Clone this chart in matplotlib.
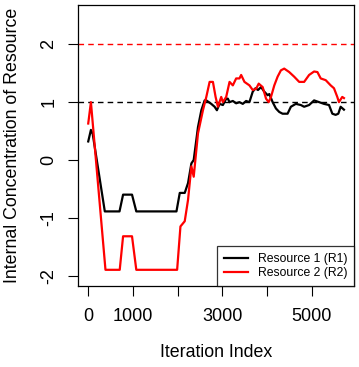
import matplotlib.pyplot as plt
import numpy as np

plt.rcParams['font.family'] = ['Liberation Sans', 'DejaVu Sans']
plt.rcParams['axes.unicode_minus'] = False

# values (iteration index, internal concentration)
r1_x = [0, 60, 100, 371, 700, 780, 980, 1076, 1975, 2049, 2160, 2234, 2309, 2361,
        2457, 2532, 2606, 2643, 2754, 2829, 2880, 2940, 3014, 3088, 3125, 3163,
        3237, 3311, 3385, 3460, 3534, 3608, 3682, 3742, 3800, 3868, 3942, 4016,
        4054, 4128, 4202, 4276, 4350, 4462, 4536, 4647, 4759, 4833, 4944, 5056,
        5167, 5278, 5390, 5464, 5538, 5598, 5650, 5724]
r1_y = [0.32, 0.52, 0.45, -0.89, -0.89, -0.60, -0.60, -0.89, -0.89, -0.57, -0.57,
        -0.40, -0.06, 0.0, 0.57, 0.86, 1.03, 1.03, 0.97, 0.92, 0.86, 0.97, 0.95,
        1.06, 1.06, 1.0, 1.02, 0.98, 1.0, 0.97, 1.02, 1.0, 1.18, 1.24, 1.21, 1.26,
        1.18, 1.12, 1.14, 1.0, 0.89, 0.83, 0.80, 0.80, 0.92, 0.97, 0.95, 0.92,
        0.95, 1.03, 1.0, 0.97, 0.95, 0.80, 0.78, 0.80, 0.92, 0.87]

r2_x = [0, 60, 386, 705, 780, 980, 1076, 1990, 2064, 2160, 2234, 2309, 2361, 2457,
        2568, 2643, 2717, 2791, 2851, 2903, 2977, 3014, 3088, 3163, 3237, 3311,
        3385, 3423, 3497, 3608, 3682, 3757, 3816, 3905, 3980, 4039, 4091, 4165,
        4239, 4313, 4387, 4499, 4610, 4722, 4833, 4944, 5056, 5130, 5204, 5316,
        5427, 5501, 5575, 5612, 5686, 5724]
r2_y = [0.63, 1.0, -1.90, -1.90, -1.32, -1.32, -1.90, -1.90, -1.15, -1.06, -0.69,
        -0.11, -0.29, 0.46, 0.86, 1.09, 1.35, 1.35, 1.09, 0.92, 1.09, 1.0, 1.09,
        1.35, 1.29, 1.41, 1.41, 1.47, 1.35, 1.29, 1.21, 1.23, 1.32, 1.26, 1.06,
        1.0, 1.09, 1.29, 1.44, 1.55, 1.58, 1.52, 1.44, 1.35, 1.35, 1.47, 1.53,
        1.52, 1.41, 1.38, 1.29, 1.24, 1.09, 1.0, 1.09, 1.07]

x_ticks = [0, 1000, 2000, 3000, 4000, 5000]
x_labels = ['0', '1000', '', '3000', '', '5000']
y_ticks = [-2, -1, 0, 1, 2]

fig = plt.figure(figsize=(3.59, 3.67), dpi=100)
ax = fig.add_axes([78 / 359, 1 - 286 / 367, 276 / 359, 281 / 367])

ax.axhline(1, color='black', lw=1, dashes=(4, 3))
ax.axhline(2, color='red', lw=1, dashes=(4, 3))
ax.plot(r1_x, r1_y, color='black', lw=1.6, label='Resource 1 (R1)')
ax.plot(r2_x, r2_y, color='red', lw=1.6, label='Resource 2 (R2)')

ax.set_xlim(-229, 5949)
ax.set_ylim(-2.18, 2.68)
ax.set_xticks(x_ticks)
ax.set_xticklabels(x_labels)
ax.set_yticks(y_ticks)
ax.set_yticklabels([str(v) for v in y_ticks], rotation=90, va='center')
ax.tick_params(length=7, width=0.8, labelsize=13, direction='out')
ax.tick_params(axis='x', pad=8.5)
ax.tick_params(axis='y', pad=8)
for s in ax.spines.values():
    s.set_linewidth(0.9)

ax.set_xlabel('Iteration Index', fontsize=12.8)
ax.set_ylabel('Internal Concentration of Resource', fontsize=12.8)
ax.xaxis.set_label_coords(0.5, -0.238)
ax.yaxis.set_label_coords(-0.239, 0.5)
ax.xaxis.label.set_va('center')
ax.yaxis.label.set_va('center')

leg = ax.legend(loc='lower right', borderaxespad=0, fontsize=8.8, fancybox=False,
                handlelength=2.0, handletextpad=0.8, borderpad=0.55,
                labelspacing=0.2)
leg.get_frame().set_edgecolor('black')
leg.get_frame().set_linewidth(0.9)

fig.savefig('out.png', dpi=100)
